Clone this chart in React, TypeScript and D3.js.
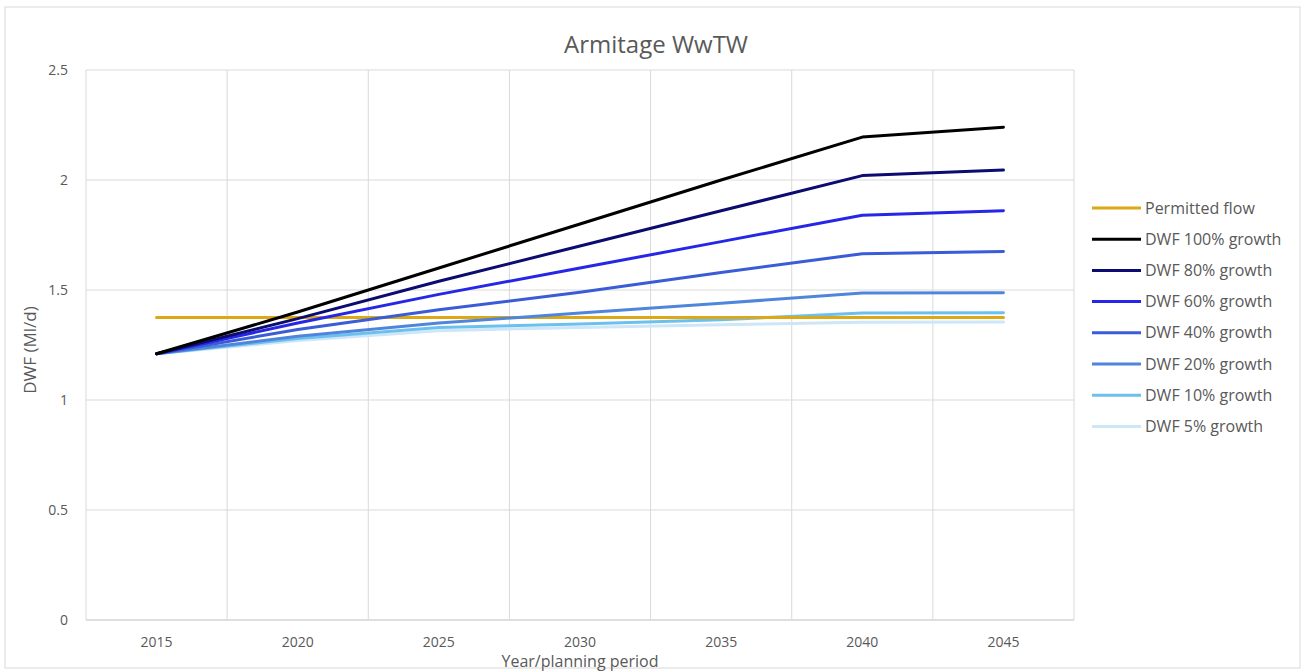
import React from "react";
import * as d3 from "d3";

const years = ["2015", "2020", "2025", "2030", "2035", "2040", "2045"];
const yTicks = [0, 0.5, 1, 1.5, 2, 2.5];

const permitted = [1.375, 1.375, 1.375, 1.375, 1.375, 1.375, 1.375];
const dwf100 = [1.21, 1.4, 1.6, 1.8, 2.0, 2.195, 2.24];
const dwf80 = [1.21, 1.37, 1.54, 1.7, 1.86, 2.02, 2.045];
const dwf60 = [1.21, 1.35, 1.48, 1.6, 1.72, 1.84, 1.86];
const dwf40 = [1.21, 1.32, 1.41, 1.49, 1.58, 1.665, 1.675];
const dwf20 = [1.21, 1.29, 1.35, 1.395, 1.44, 1.486, 1.487];
const dwf10 = [1.21, 1.28, 1.33, 1.345, 1.365, 1.395, 1.397];
const dwf5 = [1.21, 1.27, 1.315, 1.33, 1.342, 1.353, 1.355];

const seriesNames = [
  "Permitted flow",
  "DWF 100% growth",
  "DWF 80% growth",
  "DWF 60% growth",
  "DWF 40% growth",
  "DWF 20% growth",
  "DWF 10% growth",
  "DWF 5% growth",
];
const seriesValues = [permitted, dwf100, dwf80, dwf60, dwf40, dwf20, dwf10, dwf5];
const seriesColors = [
  "#DDA816",
  "#000000",
  "#0B0B70",
  "#2626E6",
  "#3A5CD6",
  "#4F86DC",
  "#6CC0EE",
  "#CDE6F8",
];

const W = 1306;
const H = 671;
const M = { left: 86, right: 1074, top: 70, bottom: 620 };
const FONT = "'Open Sans', 'Liberation Sans', sans-serif";
const TXT = "#595959";

export default function App() {
  const x = d3.scaleBand<string>().domain(years).range([M.left, M.right]).padding(0);
  const y = d3.scaleLinear().domain([0, 2.5]).range([M.bottom, M.top]);
  const cx = (yr: string) => (x(yr) as number) + x.bandwidth() / 2;
  const line = d3
    .line<number>()
    .x((_, i) => cx(years[i]))
    .y((d) => y(d));

  const edges = years.map((yr) => x(yr) as number).concat([M.right]);

  const order = [7, 6, 0, 5, 4, 3, 2, 1];

  return (
    <svg
      width={W}
      height={H}
      style={{ position: "absolute", left: 0, top: 0, background: "#fff" }}
      fontFamily={FONT}
    >
      <rect x={5} y={7} width={1295} height={661} fill="#fff" stroke="#d9d9d9" strokeWidth={1} />
      <text x={656} y={53} textAnchor="middle" fontSize={24} fill={TXT}>
        Armitage WwTW
      </text>

      {yTicks.map((t) => (
        <g key={"h" + t}>
          <line
            x1={M.left}
            x2={M.right}
            y1={y(t)}
            y2={y(t)}
            stroke={t === 0 ? "#bfbfbf" : "#d9d9d9"}
            strokeWidth={1}
          />
          <text x={68} y={y(t) + 5} textAnchor="end" fontSize={14} fill={TXT}>
            {t}
          </text>
        </g>
      ))}
      {edges.map((e, i) => (
        <line key={"v" + i} x1={e} x2={e} y1={M.top} y2={M.bottom} stroke="#d9d9d9" strokeWidth={1} />
      ))}
      {years.map((yr) => (
        <text key={yr} x={cx(yr)} y={647} textAnchor="middle" fontSize={14} fill={TXT}>
          {yr}
        </text>
      ))}
      <text x={580} y={667} textAnchor="middle" fontSize={16} fill={TXT}>
        Year/planning period
      </text>
      <text
        transform={`translate(36,${(M.top + M.bottom) / 2 + 5}) rotate(-90)`}
        textAnchor="middle"
        fontSize={17}
        fill={TXT}
      >
        DWF (Ml/d)
      </text>

      {order.map((i) => (
        <path
          key={"s" + i}
          d={line(seriesValues[i]) || ""}
          fill="none"
          stroke={seriesColors[i]}
          strokeWidth={3}
          strokeLinejoin="round"
          strokeLinecap="round"
        />
      ))}

      {seriesNames.map((n, i) => {
        const ly = 208 + i * 31.2;
        return (
          <g key={"l" + i}>
            <line x1={1092} x2={1141} y1={ly} y2={ly} stroke={seriesColors[i]} strokeWidth={3} />
            <text x={1145} y={ly + 5.5} fontSize={16} fill={TXT}>
              {n}
            </text>
          </g>
        );
      })}
    </svg>
  );
}
